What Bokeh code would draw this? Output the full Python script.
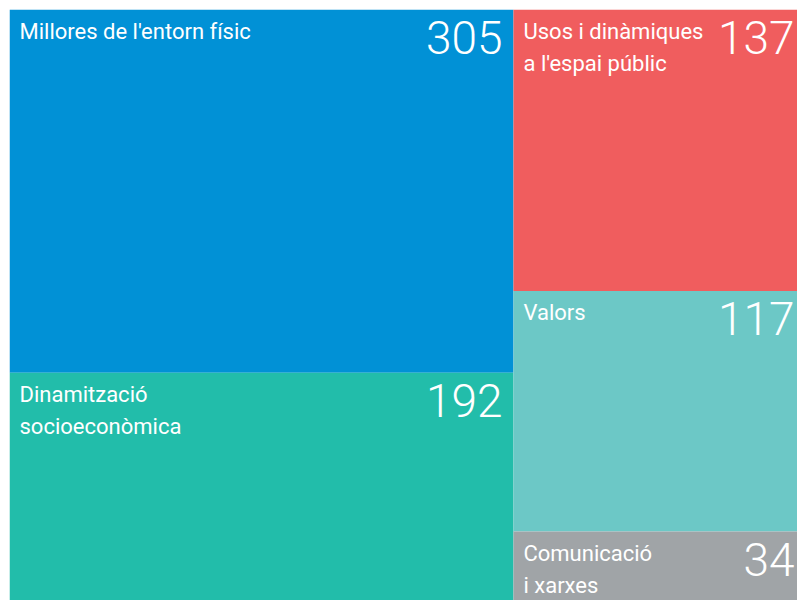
from bokeh.plotting import figure
from bokeh.models import ColumnDataSource, Range1d
from bokeh.core.properties import value
from bokeh.embed import file_html
from bokeh.resources import INLINE

# ---- data ----
labels = ["Millores de l'entorn físic", "Dinamització\nsocioeconòmica",
          "Usos i dinàmiques\na l'espai públic", "Valors", "Comunicació\ni xarxes"]
values = [305, 192, 137, 117, 34]
column = [0, 0, 1, 1, 1]
colors = ["#0191D6", "#22BDAA", "#F05D5E", "#6CC8C6", "#A0A4A7"]

# page / frame geometry
PW, PH = 797, 600          # figure size
ML, MT = 9, 9              # white border left/top
FW, FH = PW - ML, PH - MT  # visible frame
TW, TH = 796, 592          # full treemap size (cropped at right/bottom)

# ---- treemap layout (columns, slice by value) ----
total = sum(values)
ncol = max(column) + 1
col_sums = [sum(v for v, c in zip(values, column) if c == k) for k in range(ncol)]
col_x = []
xstart = 0.0
for k in range(ncol):
    w = TW * col_sums[k] / total
    col_x.append((xstart, xstart + w))
    xstart += w
x0s, x1s, y0s, y1s = [], [], [], []
col_y = [0.0] * ncol
for v, c in zip(values, column):
    h = TH * v / col_sums[c]
    x0s.append(col_x[c][0]); x1s.append(col_x[c][1])
    y0s.append(col_y[c]); y1s.append(col_y[c] + h)
    col_y[c] += h

src = ColumnDataSource(dict(x0=x0s, x1=x1s, y0=y0s, y1=y1s, color=colors,
                            label=labels, num=[str(v) for v in values]))

p = figure(width=PW, height=PH, x_range=Range1d(0, FW), y_range=Range1d(FH, 0),
           output_backend="svg", toolbar_location=None,
           min_border_left=ML, min_border_top=MT, min_border_right=0,
           min_border_bottom=0)
p.axis.visible = False
p.grid.visible = False
p.outline_line_color = None
p.background_fill_color = "white"
p.border_fill_color = "white"

p.quad(left="x0", right="x1", bottom="y1", top="y0", fill_color="color",
       line_color=None, source=src)

p.text(x="x0", y="y0", text="label", source=src, x_offset=10, y_offset=9,
       text_color="white", text_font=value("Roboto"), text_font_size="22px",
       text_baseline="top", text_align="left", text_line_height=1.3)
p.text(x="x1", y="y0", text="num", source=src, x_offset=-11, y_offset=11,
       text_color="white", text_font=value("Roboto Light"), text_font_size="46px",
       text_baseline="top", text_align="right")

open("out.html", "w").write(file_html(p, INLINE))
